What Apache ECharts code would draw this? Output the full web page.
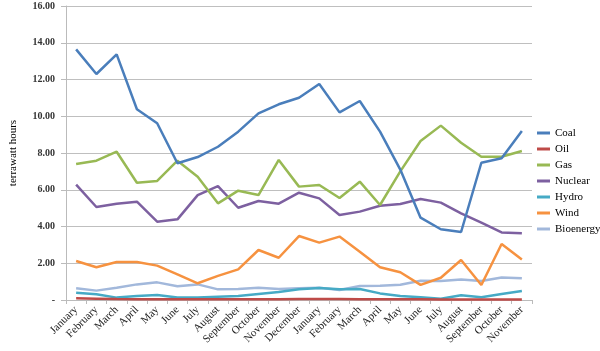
<!DOCTYPE html>
<html><head><meta charset="utf-8">
<script src="https://cdn.jsdelivr.net/npm/echarts@6/dist/echarts.min.js"></script>
<style>html,body{margin:0;padding:0;background:#fff}#c{width:600px;height:351px}</style>
</head><body><div id="c"></div>
<script>
var months = ['January','February','March','April','May','June','July','August','September','October','November','December','January','February','March','April','May','June','July','August','September','October','November'];
var coal = [13.64,12.30,13.37,10.38,9.62,7.44,7.78,8.34,9.16,10.16,10.65,11.01,11.76,10.21,10.83,9.16,7.10,4.48,3.85,3.70,7.47,7.71,9.20];
var oil = [0.09,0.07,0.05,0.04,0.04,0.04,0.04,0.04,0.04,0.04,0.04,0.05,0.06,0.05,0.04,0.04,0.04,0.04,0.03,0.03,0.03,0.03,0.03];
var gas = [7.40,7.58,8.07,6.38,6.48,7.58,6.71,5.26,5.95,5.71,7.62,6.17,6.26,5.55,6.44,5.17,7.00,8.65,9.49,8.56,7.80,7.80,8.11];
var nuclear = [6.28,5.06,5.24,5.35,4.26,4.39,5.71,6.20,5.02,5.39,5.24,5.84,5.53,4.63,4.81,5.13,5.22,5.50,5.30,4.72,4.21,3.68,3.63];
var hydro = [0.40,0.31,0.13,0.22,0.27,0.13,0.13,0.18,0.22,0.33,0.44,0.58,0.65,0.58,0.60,0.36,0.22,0.15,0.07,0.26,0.15,0.33,0.49];
var wind = [2.12,1.78,2.07,2.07,1.87,1.40,0.91,1.31,1.67,2.72,2.30,3.48,3.12,3.45,2.63,1.78,1.51,0.82,1.21,2.18,0.82,3.05,2.21];
var bio = [0.64,0.51,0.67,0.85,0.96,0.75,0.85,0.58,0.60,0.67,0.60,0.64,0.67,0.54,0.76,0.78,0.83,1.05,1.03,1.11,1.03,1.23,1.18];
var seriesNames = ['Coal','Oil','Gas','Nuclear','Hydro','Wind','Bioenergy'];
var seriesColors = ['#4a7ebb','#be4b48','#98b954','#7d60a0','#46aac5','#f69240','#a2b8db'];
var yTickLabels = ['-','2.00','4.00','6.00','8.00','10.00','12.00','14.00','16.00'];
var yTitle = 'terrawatt hours';

var allData = [coal, oil, gas, nuclear, hydro, wind, bio];
var font = 'Liberation Serif';
var chart = echarts.init(document.getElementById('c'), null, {renderer:'canvas'});
chart.setOption({
  animation:false,
  backgroundColor:'#fff',
  grid:{left:55,right:68,top:6,bottom:51,containLabel:false},
  legend:{
    orient:'vertical', left:537, top:126, padding:0, itemWidth:13, itemHeight:3, itemGap:2, icon:'rect',
    data:seriesNames,
    textStyle:{fontFamily:font,fontSize:11,color:'#000',lineHeight:14}
  },
  xAxis:{
    type:'category', data:months, boundaryGap:true,
    axisLine:{lineStyle:{color:'#bbb',width:1}},
    axisTick:{show:true,alignWithLabel:false,length:4,lineStyle:{color:'#bbb'}},
    axisLabel:{rotate:45,interval:0,fontFamily:font,fontSize:11,color:'#222',margin:8},
    splitLine:{show:false}
  },
  yAxis:{
    type:'value', min:0, max:16, interval:2,
    name:yTitle, nameLocation:'middle', nameGap:47, nameRotate:90,
    nameTextStyle:{fontFamily:font,fontSize:11,color:'#000'},
    axisLine:{show:true,lineStyle:{color:'#bbb'}},
    axisTick:{show:true,length:5,lineStyle:{color:'#bbb'}},
    axisLabel:{fontFamily:font,fontSize:10,fontWeight:'bold',color:'#333',margin:11,
      formatter:function(v){return yTickLabels[Math.round(v/2)];}},
    splitLine:{lineStyle:{color:'#bfbfbf',width:1}}
  },
  series: seriesNames.map(function(n,i){
    return {name:n,type:'line',data:allData[i],showSymbol:false,symbol:'none',
      lineStyle:{width:2.5,color:seriesColors[i]},itemStyle:{color:seriesColors[i]},z:10-i};
  })
});
</script></body></html>
